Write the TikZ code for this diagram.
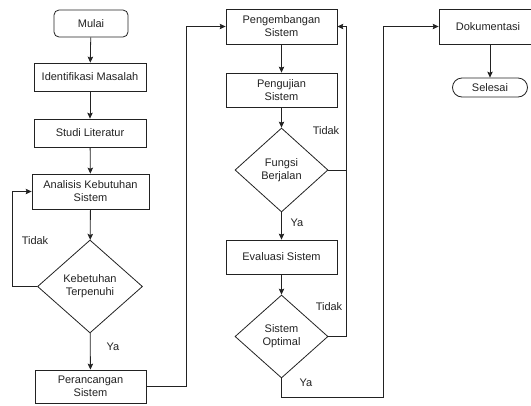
\documentclass[tikz,border=0pt]{standalone}
\usepackage{fontspec}
\setmainfont{Liberation Sans}
\usetikzlibrary{shapes.geometric,arrows.meta}
\definecolor{ln}{HTML}{222222}
\begin{document}
\begin{tikzpicture}[x=1pt,y=-1pt,
  every node/.style={font=\fontsize{11}{13}\selectfont, text=ln},
  box/.style={draw=ln, line width=0.8pt, rectangle, align=center, inner sep=0pt},
  term/.style={draw=ln, line width=0.8pt, rectangle, rounded corners=5pt, align=center, inner sep=0pt},
  dec/.style={draw=ln, line width=0.8pt, diamond, aspect=1.12, align=center, inner sep=0pt},
  arr/.style={draw=ln, line width=0.8pt, -{Stealth[length=6pt,width=5.5pt,inset=1.2pt]}},
  ln/.style={draw=ln, line width=0.8pt},
  lbl/.style={font=\fontsize{11}{13}\selectfont}]
\useasboundingbox (0,0) rectangle (531,405);
% column 1
\node[term, minimum width=74pt, minimum height=27pt] (mulai) at (91,23.5) {Mulai};
\node[box, minimum width=112pt, minimum height=28pt] (ident) at (90,77) {Identifikasi Masalah};
\node[box, minimum width=112pt, minimum height=28pt] (studi) at (90,133) {Studi Literatur};
\node[box, minimum width=117pt, minimum height=35pt] (anal) at (90.5,191.5) {Analisis Kebutuhan\\Sistem};
\node[dec, minimum width=105pt, minimum height=93pt] (keb) at (90,286.5) {Kebetuhan\\Terpenuhi};
\node[box, minimum width=111pt, minimum height=33pt] (peranc) at (90.5,386.5) {Perancangan\\Sistem};
% column 2
\node[box, minimum width=111pt, minimum height=35pt] (pengem) at (281.5,26.5) {Pengembangan\\Sistem};
\node[box, minimum width=111pt, minimum height=34pt] (penguj) at (281.5,90) {Pengujian\\Sistem};
\node[dec, minimum width=93pt, minimum height=84pt] (fungsi) at (281.5,170) {Fungsi\\Berjalan};
\node[box, minimum width=111pt, minimum height=34pt] (eval) at (281.5,257) {Evaluasi Sistem};
\node[dec, minimum width=93pt, minimum height=83pt] (optim) at (281.5,336.5) {Sistem\\Optimal};
% column 3
\node[box, minimum width=92pt, minimum height=35pt, inner xsep=0pt] (dok) at (485,26.5) {\hspace*{6pt}Dokumentasi};
\node[term, rounded corners=9.5pt, minimum width=75pt, minimum height=19pt] (sel) at (490,87.5) {Selesai};
\coordinate (c3) at (383,397);
% connectors
\draw[arr] (mulai) -- (ident);
\draw[arr] (ident) -- (studi);
\draw[arr] (studi) -- (anal);
\draw[arr] (anal) -- (keb);
\draw[arr] (keb) -- (peranc);
\draw[arr] (keb.west) -- ++(-25,0) |- (anal.west);
\draw[arr] (peranc.east) -- ++(40,0) |- (pengem.west);
\draw[arr] (pengem) -- (penguj);
\draw[arr] (penguj) -- (fungsi);
\draw[arr] (fungsi) -- (eval);
\draw[arr] (eval) -- (optim);
\draw[arr] (fungsi.east) -- ++(18,0) |- (pengem.east);
\draw[ln] (optim.east) -- ++(18,0) |- (fungsi.east);
\draw[arr] (optim.south) |- (c3) |- (dok.west);
\draw[arr] (dok.south -| sel.north) -- (sel.north);
% labels
\node[lbl] (t1) at (35,241) {Tidak};
\node[lbl] (y1) at (113,347) {Ya};
\node[lbl] (t2) at (326,131) {Tidak};
\node[lbl] (y2) at (297,223) {Ya};
\node[lbl] (t3) at (329,307) {Tidak};
\node[lbl] (y3) at (306,383) {Ya};
\end{tikzpicture}
\end{document}
